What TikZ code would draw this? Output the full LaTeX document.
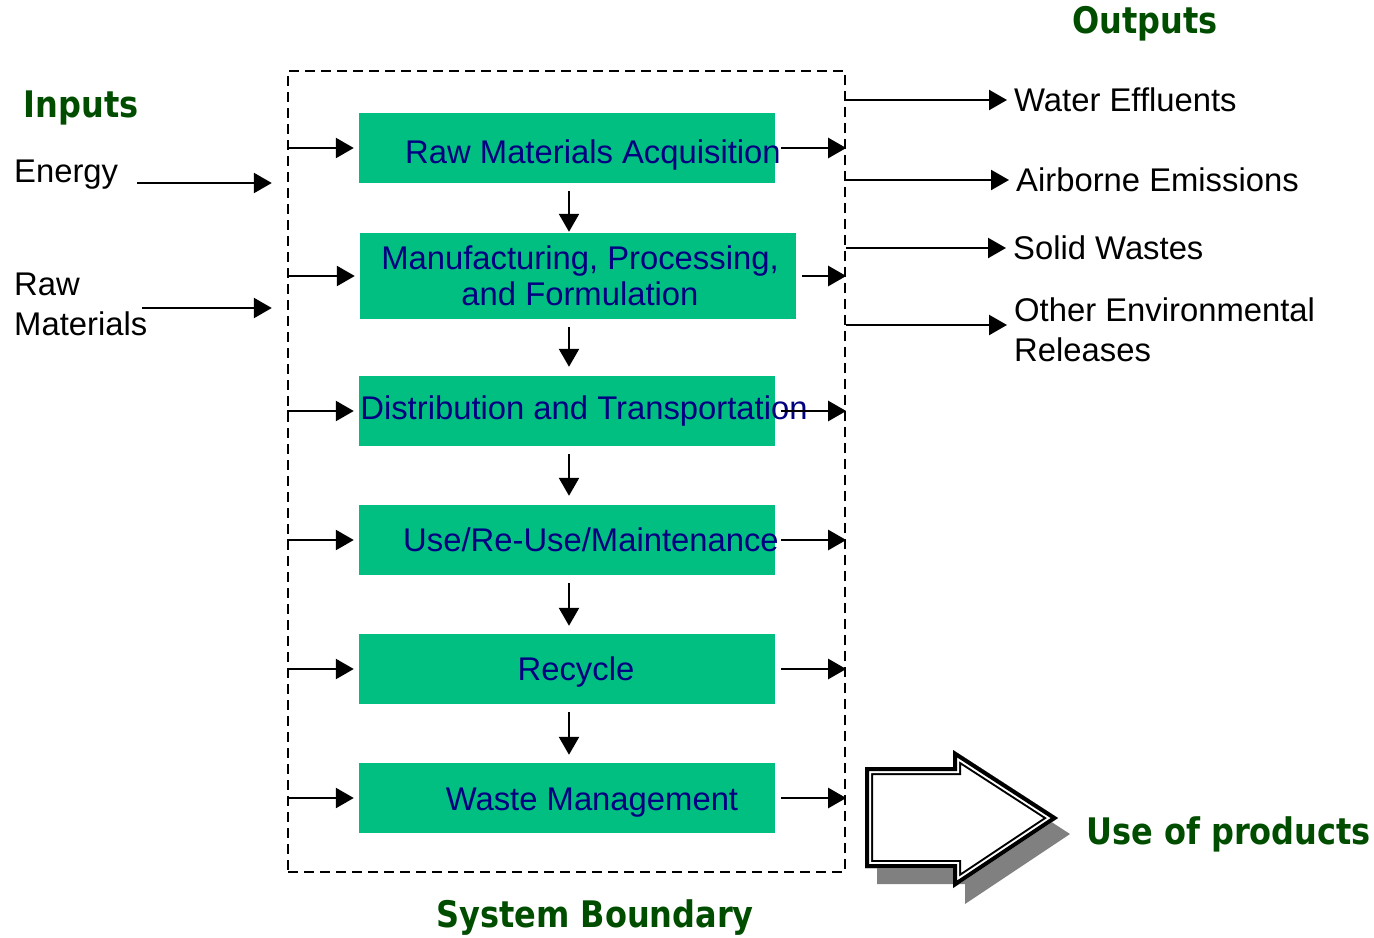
\documentclass[tikz,border=0pt]{standalone}
\usepackage{fontspec}
\setmainfont{Liberation Sans}
\newfontfamily\headfont{DejaVu Sans}[FakeStretch=0.875]
\usetikzlibrary{arrows.meta}

\definecolor{boxgreen}{RGB}{0,191,128}
\definecolor{headgreen}{RGB}{0,77,0}
\definecolor{stagenavy}{RGB}{0,0,128}
\newcommand{\bodysize}{\fontsize{16.4pt}{20pt}\selectfont}
\newcommand{\headsize}{\headfont\bfseries\fontsize{18.3pt}{20pt}\selectfont}

\begin{document}
\begin{tikzpicture}[x=0.5pt, y=-0.5pt, line width=1.2pt,
	stage/.style={fill=boxgreen, minimum width=208pt, minimum height=35pt, inner sep=0pt},
	stage text/.style={text=stagenavy, font=\bodysize, align=center},
	plain text/.style={font=\bodysize, inner sep=0pt, align=left},
	head/.style={text=headgreen, font=\headsize, inner sep=0pt},
	flow/.style={-{Triangle[length=9pt,width=10pt]}},
	boundary/.style={draw, dash pattern=on 5pt off 3pt, minimum width=278.5pt, minimum height=400.5pt}]
	
	\useasboundingbox (0,0) rectangle (1374,937);
	
	% system boundary and life cycle stages
	\node[boundary] (bound) at (566.5,471.5) {};
	\node[stage, label={[stage text, xshift=13pt, yshift=-3.5pt]center:Raw Materials Acquisition}] (raw) at (567,148) {};
	\node[stage, minimum width=218pt, minimum height=43pt,
		label={[stage text, font=\fontsize{16.4pt}{18pt}\selectfont, xshift=1pt]center:Manufacturing, Processing,\\and Formulation}] (manu) at (578,276) {};
	\node[stage, label={[stage text, xshift=8.5pt]center:Distribution and Transportation}] (dist) at (567,411) {};
	\node[stage, label={[stage text, xshift=12pt]center:Use/Re-Use/Maintenance}] (use) at (567,540) {};
	\node[stage, label={[stage text, xshift=4.5pt, yshift=-1.5pt]center:Recycle}] (recycle) at (567,669) {};
	\node[stage, label={[stage text, xshift=12.5pt, yshift=-2.5pt]center:Waste Management}] (waste) at (567,798) {};
	
	\foreach \s in {raw,manu,dist,use,recycle,waste}{
		\draw[flow, shorten >=2pt] (bound.west |- \s.west) -- (\s.west);
		\draw[flow, shorten <=2.5pt] (\s.east) -- (bound.east |- \s.east);
	}
	\foreach \a/\b/\g in {raw/manu/0pt,manu/dist/4pt,dist/use/4pt,use/recycle/3.5pt,recycle/waste/3.5pt}
		\draw[flow, shorten <=3.5pt, shorten >=\g] ([xshift=1pt]raw.south |- \a.south) -- ([xshift=1pt]raw.south |- \b.north);
	
	% inputs
	\node[head] (inputs) at (81,108) {Inputs};
	\node[plain text, anchor=west] (energy) at (13,175) {Energy};
	\node[plain text, anchor=west] (rawin) at (13,304) {Raw\\Materials};
	\coordinate (inEdge) at ([xshift=-7.5pt]bound.west);
	\draw[flow] ([shift={(9pt,-4pt)}]energy.east) coordinate (e0) -- (e0 -| inEdge);
	\draw[flow] ([shift={(-3pt,-2pt)}]rawin.east) coordinate (r0) -- (r0 -| inEdge);
	
	% outputs
	\node[head] (outputs) at (1145,24) {Outputs};
	\node[plain text, anchor=west] (water) at (1013,100) {Water Effluents};
	\node[plain text, anchor=west] (air) at (1015,180) {Airborne Emissions};
	\node[plain text, anchor=west] (solid) at (1012,248) {Solid Wastes};
	\node[plain text, anchor=west] (other) at (1013,330) {Other Environmental\\Releases};
	\coordinate (otherIn) at ([yshift=2.5pt]other.west);
	\foreach \o in {water,air,solid}
		\draw[flow, shorten >=3pt] (bound.east |- \o.west) -- (\o.west);
	\draw[flow, shorten >=3pt] (bound.east |- otherIn) -- (otherIn);
	
	\node[head] (sysbound) at (595,918) {System Boundary};
	
	% big arrow
	\fill[gray, shift={(12,16)}] (865,767) -- (953,767) -- (953,750) -- (1058,818) -- (953,888) -- (953,868) -- (865,868) -- cycle;
	\begin{scope}
		\clip (865,767) -- (953,767) -- (953,750) -- (1058,818) -- (953,888) -- (953,868) -- (865,868) -- cycle;
		\fill[white] (865,750) rectangle (1060,890);
		\foreach \w/\c in {8pt/black,6pt/white,4pt/black}
			\draw[line width=\w, draw=\c, line join=miter] (865,767) -- (953,767) -- (953,750) -- (1058,818) -- (953,888) -- (953,868) -- (865,868) -- cycle;
	\end{scope}
	\node[head, anchor=west] (useprod) at (1085,834) {Use of products};
\end{tikzpicture}
\end{document}
